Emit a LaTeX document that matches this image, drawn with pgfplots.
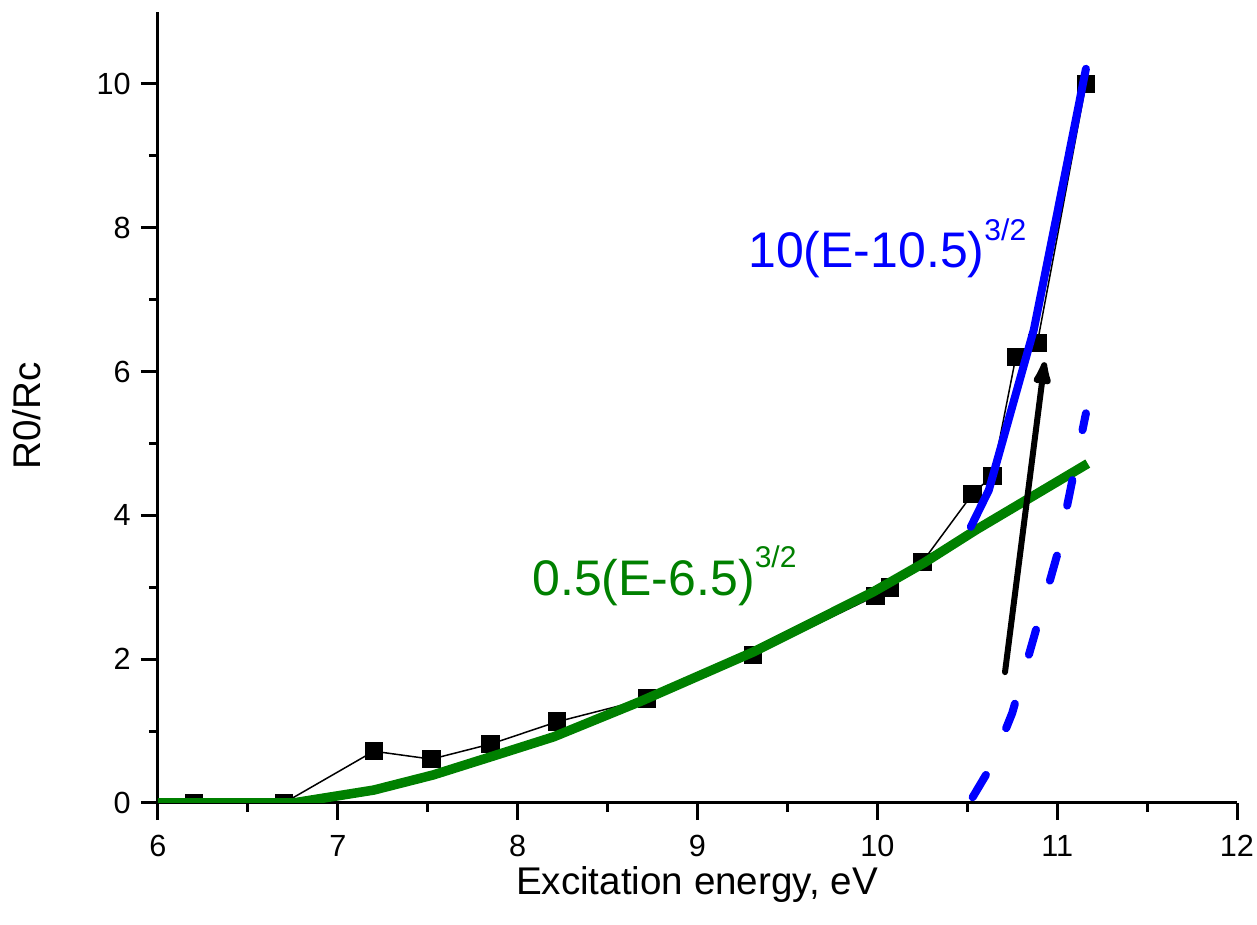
\documentclass[border=0pt]{standalone}
\usepackage{pgfplots}
\pgfplotsset{compat=1.18}
\usepackage{fontspec}
\setmainfont{Liberation Sans}
\usetikzlibrary{arrows.meta}

\definecolor{fitgreen}{RGB}{0,128,0}
\definecolor{fitblue}{RGB}{0,0,255}

% measured ratio R0/Rc versus excitation energy
\pgfplotstableread{
E     R
6.20  0.00
6.70  0.00
7.20  0.72
7.52  0.61
7.85  0.82
8.22  1.13
8.72  1.45
9.31  2.06
9.99  2.88
10.07 3.00
10.25 3.35
10.53 4.30
10.64 4.55
10.77 6.20
10.89 6.40
11.16 10.00
}\measured

% 0.5(E-6.5)^{3/2}
\pgfplotstableread{
E     R
6.00  0.00
6.75  0.00
7.20  0.18
7.53  0.39
7.86  0.65
8.20  0.92
8.68  1.41
9.31  2.10
9.63  2.50
9.98  2.94
10.26 3.34
10.55 3.80
11.17 4.72
}\lowfit

% 10(E-10.5)^{3/2}
\pgfplotstableread{
E     R
10.52 3.84
10.62 4.35
10.74 5.42
10.87 6.58
11.00 8.20
11.16 10.21
}\highfit

% shifted copy of the upper fit
\pgfplotstableread{
E     R
10.53 0.08
10.63 0.50
10.75 1.25
10.87 2.30
11.00 3.45
11.16 5.42
}\shiftfit

\begin{document}
\begin{tikzpicture}
\path[use as bounding box] (-79pt,-61pt) rectangle (549.5pt,401.5pt);
\begin{axis}[
  scale only axis,
  width=539.5pt, height=395.5pt,
  xmin=6, xmax=12, ymin=0, ymax=11,
  xtick={6,7,...,12}, ytick={0,2,...,10},
  minor x tick num=1, minor y tick num=1,
  axis x line*=bottom, axis y line*=left,
  axis line style={line width=1.5pt, -},
  tick align=outside,
  major tick length=8.5pt, minor tick length=4.5pt,
  every tick/.style={line width=1.5pt, black},
  tick label style={font=\fontsize{15.3}{18}\selectfont, inner sep=0pt},
  xticklabel style={yshift=-7.5pt},
  yticklabel style={xshift=-5pt},
  /pgf/number format/assume math mode=true,
  xlabel={Excitation energy, eV},
  ylabel={R0/Rc},
  label style={font=\fontsize{19.3}{23}\selectfont, inner sep=0pt},
  xlabel style={at={(rel axis cs:0.4995,-0.1163)}, anchor=base},
  ylabel style={at={(rel axis cs:-0.122,0.489)}, anchor=center},
  clip marker paths=true,
]
\addplot[black, line width=0.75pt, mark=square*, mark size=4.25pt,
  mark options={solid, fill=black}] table[x=E,y=R] {\measured};
\addplot[fitgreen, line width=4.75pt, line join=round] table[x=E,y=R] {\lowfit};
\addplot[fitblue, line width=4pt, line join=round, line cap=round] table[x=E,y=R] {\highfit};
\addplot[fitblue, line width=4pt, line cap=round, dash pattern=on 13pt off 25.5pt] table[x=E,y=R] {\shiftfit};
\addplot[black, line width=3pt, line cap=round,
  -{Latex[length=16.5pt,width=10.5pt,round]}] coordinates {(10.71,1.82) (10.93,6.13)};
\node[anchor=base west, inner sep=0pt, text=fitgreen] at (axis cs:8.08,2.89)
  {\fontsize{25}{30}\selectfont 0.5(E-6.5)\raisebox{14pt}{\fontsize{15}{18}\selectfont 3/2}};
\node[anchor=base west, inner sep=0pt, text=fitblue] at (axis cs:9.28,7.44)
  {\fontsize{25}{30}\selectfont 10(E-10.5)\raisebox{13.5pt}{\fontsize{15}{18}\selectfont 3/2}};
\end{axis}
\end{tikzpicture}
\end{document}
